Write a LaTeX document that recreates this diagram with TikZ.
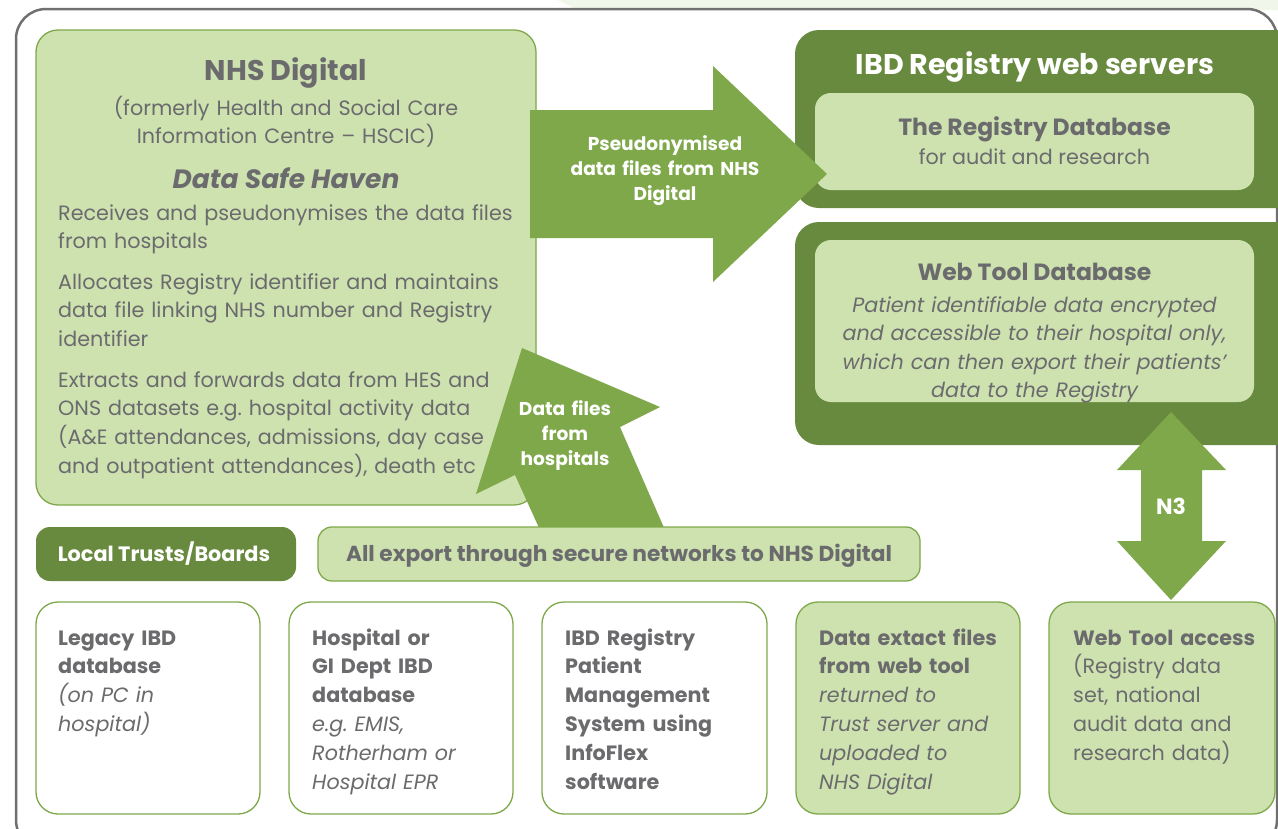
\documentclass[tikz,border=0pt]{standalone}
\usepackage{fontspec}
\setmainfont{Poppins}
\frenchspacing
\definecolor{leaf}{HTML}{CEE2B0}
\definecolor{moss}{HTML}{688A3E}
\definecolor{fern}{HTML}{7EA84A}
\definecolor{slate}{HTML}{6B6B6E}
\definecolor{rim}{HTML}{707070}
\definecolor{mist}{HTML}{F1F6EA}

\begin{document}
\begin{tikzpicture}[x=1pt, y=-1pt,
    lightbox/.style={draw=fern, line width=1.3pt, fill=leaf, rounded corners=22pt},
    plainbox/.style={draw=fern, line width=1.3pt, fill=white, rounded corners=22pt},
    darkbox/.style={fill=moss, rounded corners=24pt},
    innerbox/.style={fill=leaf, rounded corners=16pt},
    blockarrow/.style={fill=fern},
    body/.style={text=slate, inner sep=0pt, anchor=base west, align=left,
        font=\fontsize{20.7}{28.8}\selectfont},
    head/.style={text=slate, inner sep=0pt, anchor=base, align=center,
        font=\bfseries\fontsize{23.5}{28.8}\selectfont},
    oncolour/.style={text=white, inner sep=0pt, anchor=base, align=center,
        font=\bfseries\fontsize{18.6}{25}\selectfont}
]
\useasboundingbox (0,0) rectangle (1278,828);

% faint backdrop and outer frame
\fill[mist] (558,0) -- (1278,0) -- (1278,10) -- (578,10) -- cycle;
\draw[rim, line width=2.5pt, rounded corners=30pt, fill=white] (16,9) rectangle (1277,850);

% NHS Digital
\node[lightbox, minimum width=500pt, minimum height=475pt] (nhs) at (286,267.5) {};
\node[head, font=\bfseries\fontsize{28.5}{30}\selectfont] (nhstitle) at (286,80) {NHS Digital};
\node[body, anchor=base, align=center, text width=460pt] (former) at (286,115)
    {(formerly Health and Social Care\\Information Centre – HSCIC)};
\node[head, font=\bfseries\itshape\fontsize{26.5}{30}\selectfont] (haven) at (286,188) {Data Safe Haven};
\node[body, text width=470pt] (receives) at (58,220)
    {Receives and pseudonymises the data files\\from hospitals};
\node[body, text width=470pt] (allocates) at (58,289)
    {Allocates Registry identifier and maintains\\data file linking NHS number and Registry\\identifier};
\node[body, text width=470pt] (extracts) at (58,387)
    {Extracts and forwards data from HES and\\ONS datasets e.g. hospital activity data\\(A\&E attendances, admissions, day case\\and outpatient attendances), death etc};

% IBD Registry web servers
\node[darkbox, minimum width=510pt, minimum height=178pt] (servers) at (1050,119) {};
\node[oncolour, font=\bfseries\fontsize{28.5}{30}\selectfont] (serverstitle) at (1035,74) {IBD Registry web servers};
\node[innerbox, minimum width=439pt, minimum height=97pt] (regdb) at (1034.5,141.5) {};
\node[head] (regdbtitle) at (1034.5,135) {The Registry Database};
\node[body, anchor=base] (regdbnote) at (1034.5,164) {for audit and research};

\node[darkbox, minimum width=510pt, minimum height=223pt] (webtool) at (1050,333.5) {};
\node[innerbox, minimum width=439pt, minimum height=162pt] (webdb) at (1034.5,321) {};
\node[head] (webdbtitle) at (1034.5,280) {Web Tool Database};
\node[body, anchor=base, align=center, text width=435pt, font=\itshape\fontsize{20.7}{28.6}\selectfont] (webdbnote) at (1034.5,312)
    {Patient identifiable data encrypted\\and accessible to their hospital only,\\which can then export their patients’\\data to the Registry};

% block arrows
\fill[blockarrow] (530,110) -- (713,110) -- (713,66) -- (827,174)
    -- (713,282) -- (713,238) -- (530,238) -- cycle;
\node[oncolour, text width=210pt] (pseudo) at (665,150) {Pseudonymised\\data files from NHS\\Digital};

\fill[blockarrow] (522,348) -- (660,407) -- (620,427) -- (665,530)
    -- (540,530) -- (515,475) -- (476,494) -- cycle;
\node[oncolour, text width=150pt] (hospfiles) at (565,415) {Data files\\from\\hospitals};

\fill[blockarrow] (1171,412) -- (1226,470) -- (1202,470) -- (1202,541) -- (1226,541)
    -- (1171,600) -- (1117,541) -- (1141,541) -- (1141,470) -- (1117,470) -- cycle;
\node[oncolour, font=\bfseries\fontsize{22}{24}\selectfont] (nthree) at (1171,514) {N3};

% strip of labels
\node[darkbox, rounded corners=14pt, minimum width=260pt, minimum height=54pt] (trusts) at (166,554) {};
\node[oncolour, font=\bfseries\fontsize{20.8}{24}\selectfont] (truststext) at (164,561) {Local Trusts/Boards};
\node[lightbox, rounded corners=14pt, minimum width=602pt, minimum height=54pt] (export) at (619,554) {};
\node[head, font=\bfseries\fontsize{21.7}{24}\selectfont] (exporttext) at (619,561) {All export through secure networks to NHS Digital};

% bottom row
\node[plainbox, minimum width=224pt, minimum height=212pt] (legacy) at (148,708) {};
\node[plainbox, minimum width=224pt, minimum height=212pt] (gidept) at (401,708) {};
\node[plainbox, minimum width=225pt, minimum height=212pt] (infoflex) at (654.5,708) {};
\node[lightbox, minimum width=224pt, minimum height=212pt] (extract) at (908,708) {};
\node[lightbox, minimum width=226pt, minimum height=212pt] (access) at (1162,708) {};

\node[body, text width=200pt] (legacytext) at (58,645)
    {\textbf{Legacy IBD}\\\textbf{database}\\\textit{(on PC in}\\\textit{hospital)}};
\node[body, text width=200pt] (gidepttext) at (312,645)
    {\textbf{Hospital or}\\\textbf{GI Dept IBD}\\\textbf{database}\\\textit{e.g. EMIS,}\\\textit{Rotherham or}\\\textit{Hospital EPR}};
\node[body, text width=200pt] (infoflextext) at (565,645)
    {\textbf{IBD Registry}\\\textbf{Patient}\\\textbf{Management}\\\textbf{System using}\\\textbf{InfoFlex}\\\textbf{software}};
\node[body, text width=200pt] (extracttext) at (819,645)
    {\textbf{Data extact files}\\\textbf{from web tool}\\\textit{returned to}\\\textit{Trust server and}\\\textit{uploaded to}\\\textit{NHS Digital}};
\node[body, text width=205pt] (accesstext) at (1073,645)
    {\textbf{Web Tool access}\\(Registry data\\set, national\\audit data and\\research data)};

\end{tikzpicture}
\end{document}
